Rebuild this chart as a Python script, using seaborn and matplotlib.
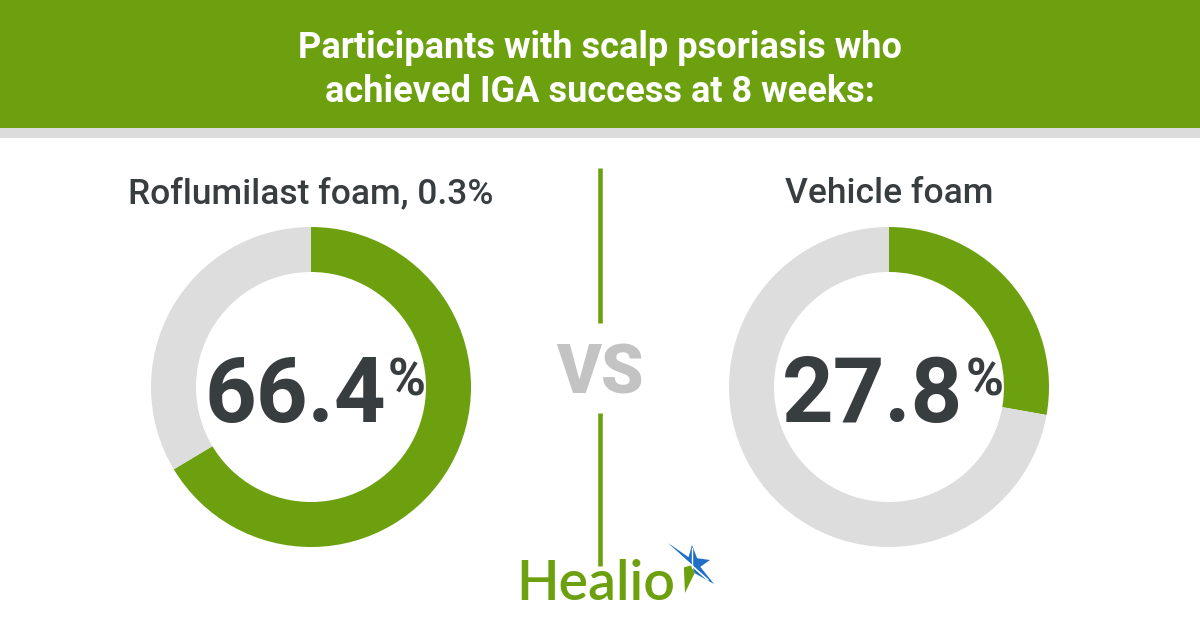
import matplotlib
matplotlib.use("Agg")
import numpy as np
import matplotlib.pyplot as plt
import seaborn as sns
from matplotlib.patches import Rectangle, Polygon

# ---- data ----
title_lines = ["Participants with scalp psoriasis who", "achieved IGA success at 8 weeks:"]
groups = ["Roflumilast foam, 0.3%", "Vehicle foam"]
success_pct = [66.4, 27.8]
number_labels = ["66.4", "27.8"]

GREEN = "#6CA00F"
GRAY = "#DDDDDD"
DARK = "#383D40"
VSGRAY = "#C3C3C3"
BLUE = "#1F6FC5"

sns.set_theme(style="white")
plt.rcParams["font.family"] = ["Roboto", "DejaVu Sans"]

W, H = 1200, 630
fig = plt.figure(figsize=(12, 6.3), dpi=100)
fig.patch.set_facecolor("white")

bg = fig.add_axes([0, 0, 1, 1])
bg.set_xlim(0, W)
bg.set_ylim(H, 0)
bg.axis("off")

# header
bg.add_patch(Rectangle((0, 0), W, 128, color=GREEN, lw=0))
bg.add_patch(Rectangle((0, 128), W, 10, color="#DCDCDC", lw=0))
for yb, line in zip([58, 102], title_lines):
    bg.text(600, yb, line, ha="center", va="baseline", color="white",
            fontsize=26, fontweight="bold")

# divider + VS
bg.plot([600, 600], [168, 323], color=GREEN, lw=3.3, solid_capstyle="butt")
bg.plot([600, 600], [413, 566], color=GREEN, lw=3.3, solid_capstyle="butt")
bg.text(600, 393, "VS", ha="center", va="baseline", color=VSGRAY,
        fontsize=49, fontweight="black")

# Healio logo (text + star)
bg.text(516, 600, "Healio", ha="left", va="baseline", color=GREEN, fontsize=40,
        fontweight="semibold", family=["Lato", "DejaVu Sans"])
sc = np.array([692.0, 565.0])
tips = np.array([(668, 543), (692, 545), (710, 560), (714, 584), (685, 593)], float)
ang = np.arctan2(tips[:, 1] - sc[1], tips[:, 0] - sc[0])
pts = []
for k in range(len(tips)):
    a0 = ang[k]
    a1 = ang[(k + 1) % len(tips)]
    if a1 < a0:
        a1 += 2 * np.pi
    am = (a0 + a1) / 2
    pts.append(tips[k])
    pts.append(sc + 8.5 * np.array([np.cos(am), np.sin(am)]))
pts = np.array(pts)
blue_poly = np.vstack([sc, pts[0:8]])
green_poly = np.vstack([sc, pts[7:10]])
bg.add_patch(Polygon(blue_poly, closed=True, color=BLUE, lw=0))
bg.add_patch(Polygon(green_poly, closed=True, color=GREEN, lw=0))
bg.plot([672, 708], [548, 580], color="white", lw=1.2)
bg.plot([692, 692], [548, 568], color="white", lw=1.0)

centers = [311, 889]
R = 160
renderer = fig.canvas.get_renderer()
for i, (g, v, lab) in enumerate(zip(groups, success_pct, number_labels)):
    c = centers[i]
    bg.text(c, 203, g, ha="center", va="baseline", color=DARK, fontsize=25.5,
            fontweight="medium")
    ax = fig.add_axes([(c - R) / W, (H - 387 - R) / H, 2 * R / W, 2 * R / H])
    ax.pie([v, 100 - v], colors=[GREEN, GRAY], startangle=90, counterclock=False,
           radius=1, wedgeprops=dict(width=45 / R, linewidth=0))
    ax.set_xlim(-1, 1)
    ax.set_ylim(-1, 1)
    ax.set_aspect("equal")
    ax.axis("off")
    t = ax.text(-16 / R, -35 / R, lab, ha="center", va="baseline", color=DARK,
                fontsize=65, fontweight="bold")
    bb = t.get_window_extent(renderer=renderer)
    inv = ax.transData.inverted()
    x1, _ = inv.transform((bb.x1, bb.y1))
    ax.text(x1 + 2 / R, 31 / R, "%", ha="left", va="top", color=DARK,
            fontsize=37, fontweight="bold")

fig.savefig("out.png", dpi=100, facecolor="white")
